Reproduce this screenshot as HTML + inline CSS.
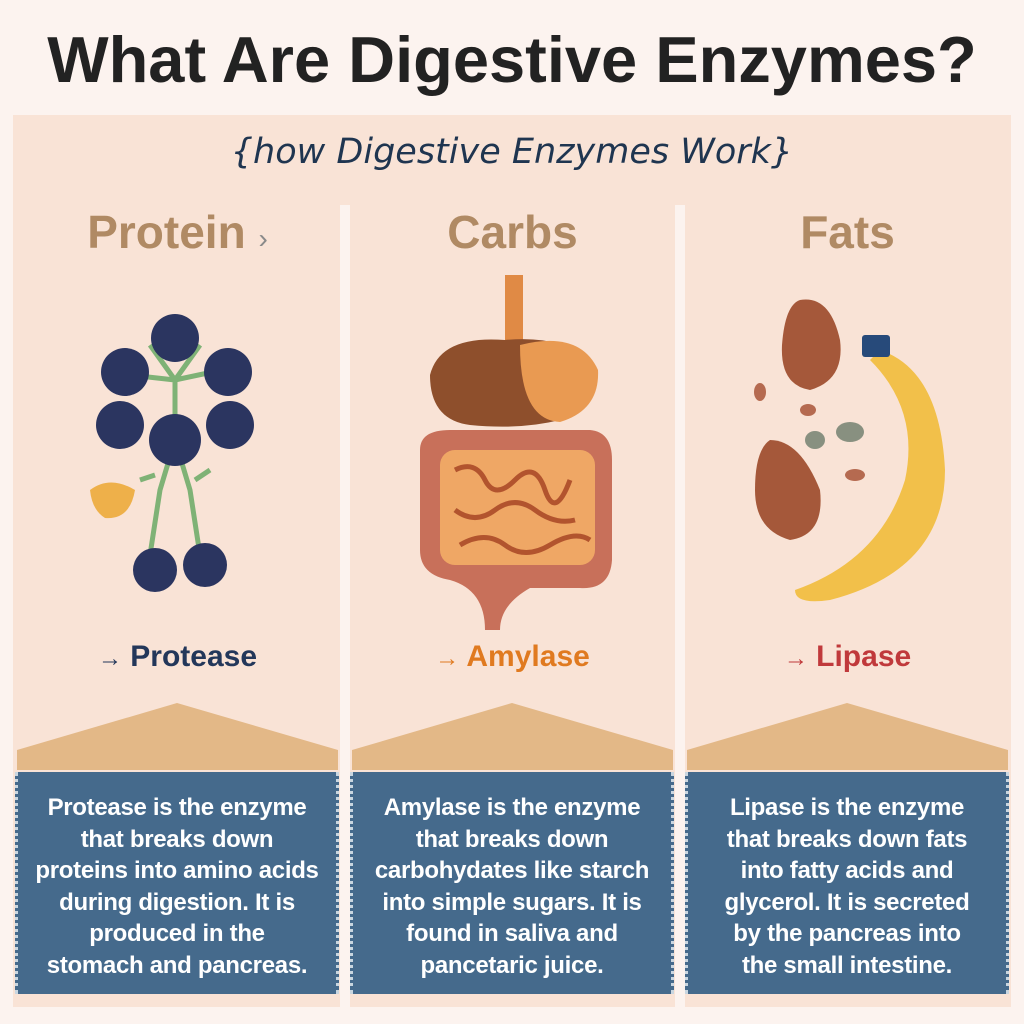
<!DOCTYPE html>
<html><head><meta charset="utf-8"><style>
*{margin:0;padding:0;box-sizing:border-box}
body{width:1024px;height:1024px;background:#fcf3ef;position:relative;overflow:hidden;font-family:"Liberation Sans",sans-serif}
.abs{position:absolute}
h1{position:absolute;left:0;width:1024px;top:22px;text-align:center;font-size:65px;font-weight:bold;color:#222;white-space:nowrap}
.panel{position:absolute;left:13px;top:115px;width:998px;height:892px;background:#f9e3d6}
.sub{position:absolute;left:0;width:1024px;top:132px;text-align:center;font-size:35px;font-style:italic;color:#1f3550;font-family:"DejaVu Sans",sans-serif;font-weight:300}
.sep{position:absolute;top:205px;width:10px;height:802px;background:#fcf3ef}
.hd{position:absolute;top:205px;width:325px;text-align:center;font-size:46px;font-weight:bold;color:#b08a64}
.en{position:absolute;top:640px;width:325px;text-align:center;font-size:30px;font-weight:bold}
.en span{font-size:24px;font-weight:normal}
.box{position:absolute;top:772px;width:324px;height:222px;background:#456a8c;color:#fff;text-align:center;font-size:24px;font-weight:bold;line-height:31.6px;padding-top:20px;border-left:3px dotted #c9d6e0;border-right:3px dotted #c9d6e0;white-space:nowrap;letter-spacing:-0.3px}
</style></head><body>
<h1>What Are Digestive Enzymes?</h1>
<div class="panel"></div>
<div class="sub">{how Digestive Enzymes Work}</div>
<div class="sep" style="left:340px"></div>
<div class="sep" style="left:675px"></div>
<div class="hd" style="left:15px">Protein <span style="font-size:28px;color:#8a8a8a;font-weight:normal">›</span></div>
<div class="hd" style="left:350px">Carbs</div>
<div class="hd" style="left:685px">Fats</div>
<svg class="abs" style="left:0;top:0" width="1024" height="1024">
<polygon points="17,770 17,750 177,703 338,750 338,770" fill="#e3b887"/>
<polygon points="352,770 352,750 512,703 673,750 673,770" fill="#e3b887"/>
<polygon points="687,770 687,750 847,703 1008,750 1008,770" fill="#e3b887"/>
<g stroke="#7fb276" stroke-width="5" fill="none">
<path d="M175,440 L175,380 M175,380 L130,375 M175,380 L222,370 M175,380 L150,345 M175,380 L200,345 M175,440 L160,490 L150,555 M175,440 L190,490 L200,555 M155,475 L140,480 M195,480 L210,470"/>
</g>
<g fill="#2b3560">
<circle cx="175" cy="338" r="24"/><circle cx="125" cy="372" r="24"/><circle cx="228" cy="372" r="24"/>
<circle cx="120" cy="425" r="24"/><circle cx="230" cy="425" r="24"/><circle cx="175" cy="440" r="26"/>
<circle cx="155" cy="570" r="22"/><circle cx="205" cy="565" r="22"/>
</g>
<path d="M90,490 Q110,475 135,490 Q130,520 105,518 Q92,510 90,490Z" fill="#eeb04a"/>
<rect x="505" y="275" width="18" height="70" fill="#e08a45"/>
<path d="M430,375 Q440,335 505,340 Q560,335 590,360 Q610,400 560,420 Q520,430 470,425 Q430,420 430,375Z" fill="#8e4f2c"/>
<path d="M520,345 Q580,330 598,370 Q600,410 560,422 Q520,420 520,345Z" fill="#e99a52"/>
<path d="M420,450 Q420,430 450,430 L590,430 Q612,432 612,460 L612,560 Q610,590 580,588 L530,588 Q500,605 500,630 L485,630 Q485,590 450,580 Q420,575 420,550Z" fill="#c8705a"/>
<rect x="440" y="450" width="155" height="115" rx="15" fill="#efa765"/>
<g stroke="#b2542e" stroke-width="5" fill="none"><path d="M455,470 q20,-10 30,10 t30,0 t30,10 t25,-10 M455,510 q20,15 40,0 t40,0 t40,10 M460,545 q25,-15 45,0 t45,0 t40,-5"/></g>
<path d="M800,300 Q830,295 840,340 Q845,380 810,390 Q780,385 782,345 Q785,305 800,300Z" fill="#a5583a"/>
<path d="M770,440 Q800,440 820,490 Q825,535 790,540 Q755,530 755,490 Q755,450 770,440Z" fill="#a5583a"/>
<path d="M880,350 Q940,370 945,470 Q945,570 830,600 Q795,605 795,590 Q880,560 905,480 Q920,410 870,360Z" fill="#f2c04a"/>
<rect x="862" y="335" width="28" height="22" rx="3" fill="#274a7a"/>
<ellipse cx="815" cy="440" rx="10" ry="9" fill="#889080"/><ellipse cx="850" cy="432" rx="14" ry="10" fill="#889080"/>
<ellipse cx="760" cy="392" rx="6" ry="9" fill="#b56a50"/><ellipse cx="808" cy="410" rx="8" ry="6" fill="#b56a50"/><ellipse cx="855" cy="475" rx="10" ry="6" fill="#b56a50"/>
</svg>
<div class="en" style="left:15px;color:#23375a"><span>→</span> Protease</div>
<div class="en" style="left:350px;color:#e07a20"><span>→</span> Amylase</div>
<div class="en" style="left:685px;color:#c0393b"><span>→</span> Lipase</div>
<div class="box" style="left:15px">Protease is the enzyme<br>that breaks down<br>proteins into amino acids<br>during digestion. It is<br>produced in the<br>stomach and pancreas.</div>
<div class="box" style="left:350px">Amylase is the enzyme<br>that breaks down<br>carbohydates like starch<br>into simple sugars. It is<br>found in saliva and<br>pancetaric juice.</div>
<div class="box" style="left:685px">Lipase is the enzyme<br>that breaks down fats<br>into fatty acids and<br>glycerol. It is secreted<br>by the pancreas into<br>the small intestine.</div>
</body></html>
